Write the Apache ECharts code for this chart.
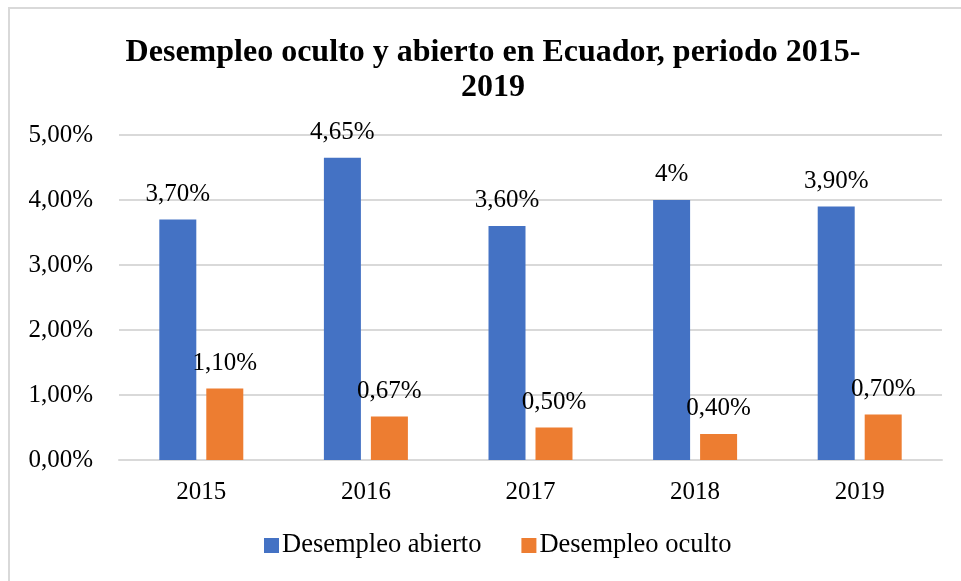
<!DOCTYPE html>
<html>
<head>
<meta charset="utf-8">
<script src="https://cdn.jsdelivr.net/npm/echarts@6/dist/echarts.min.js"></script>
<style>
  html, body { margin: 0; padding: 0; background: #fff; }
  #chart { width: 961px; height: 581px; }
</style>
</head>
<body>
<div id="chart"></div>
<script>
// datos del gráfico
const years = ['2015', '2016', '2017', '2018', '2019'];
const abierto = [3.7, 4.65, 3.6, 4.0, 3.9];
const oculto = [1.1, 0.67, 0.5, 0.4, 0.7];
const abiertoLabels = ['3,70%', '4,65%', '3,60%', '4%', '3,90%'];
const ocultoLabels = ['1,10%', '0,67%', '0,50%', '0,40%', '0,70%'];
const yTicks = ['0,00%', '1,00%', '2,00%', '3,00%', '4,00%', '5,00%'];

const font = '"Liberation Serif", "Times New Roman", serif';
const chart = echarts.init(document.getElementById('chart'));

const options = {
  backgroundColor: '#fff',
  textStyle: { fontFamily: font, color: '#000' },
  title: {
    text: 'Desempleo oculto y abierto en Ecuador, periodo 2015-\n2019',
    left: 488,
    top: 30,
    textAlign: 'center',
    textStyle: {
      fontFamily: font,
      fontWeight: 'bold',
      fontSize: 32,
      lineHeight: 35,
      color: '#000'
    }
  },
  grid: { left: 119, right: 19, top: 135, bottom: 121, containLabel: false },
  legend: {
    bottom: 17,
    left: 259,
    itemWidth: 15,
    itemHeight: 15,
    itemGap: 40,
    icon: 'rect',
    textStyle: { fontFamily: font, fontSize: 26.5, color: '#000', padding: [0, 0, 0, -2] },
    data: ['Desempleo abierto', 'Desempleo oculto']
  },
  xAxis: {
    type: 'category',
    data: years,
    axisLine: { lineStyle: { color: '#d9d9d9', width: 2 } },
    axisTick: { show: false },
    axisLabel: { fontFamily: font, fontSize: 25, color: '#000', margin: 20 }
  },
  yAxis: {
    type: 'value',
    min: 0,
    max: 5,
    interval: 1,
    axisLine: { show: false },
    axisTick: { show: false },
    splitLine: { lineStyle: { color: '#d9d9d9', width: 2 } },
    axisLabel: {
      fontFamily: font,
      fontSize: 25,
      color: '#000',
      margin: 26,
      formatter: (v) => yTicks[Math.round(v)]
    }
  },
  series: [
    {
      name: 'Desempleo abierto',
      type: 'bar',
      data: abierto,
      barWidth: 37,
      barGap: '27%',
      itemStyle: { color: '#4472C4' },
      label: {
        show: true,
        position: 'top',
        distance: 13,
        fontFamily: font,
        fontSize: 25,
        color: '#000',
        formatter: (p) => abiertoLabels[p.dataIndex]
      }
    },
    {
      name: 'Desempleo oculto',
      type: 'bar',
      data: oculto,
      barWidth: 37,
      itemStyle: { color: '#ED7D31' },
      label: {
        show: true,
        position: 'top',
        distance: 13,
        fontFamily: font,
        fontSize: 25,
        color: '#000',
        formatter: (p) => ocultoLabels[p.dataIndex]
      }
    }
  ],
  graphic: [{
    type: 'rect',
    shape: { x: 9, y: 8, width: 980, height: 600 },
    style: { fill: null, stroke: '#d9d9d9', lineWidth: 2 },
    silent: true
  }]
};

chart.setOption(options);
</script>
</body>
</html>
